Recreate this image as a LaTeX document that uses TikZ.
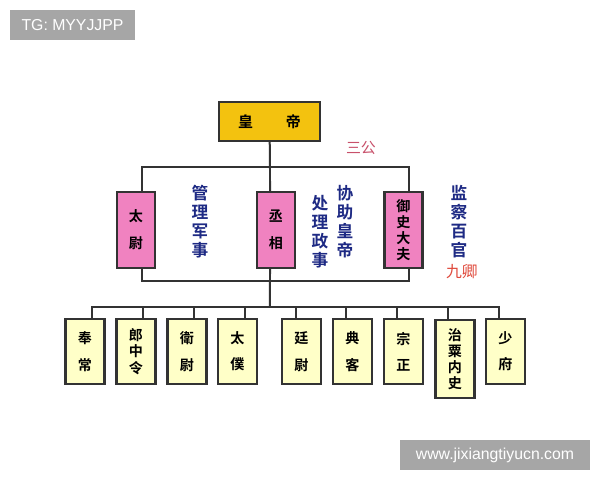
\documentclass[tikz,border=0pt]{standalone}
\usepackage{fontspec}
\setmainfont{Liberation Sans}
\newfontfamily\cjk{Noto Sans CJK SC}
\newfontfamily\cjkbold{Noto Sans CJK SC Bold}
\usetikzlibrary{positioning}

\definecolor{emperorgold}{HTML}{F3C20F}
\definecolor{gongpink}{HTML}{F082C0}
\definecolor{qingyellow}{HTML}{FFFFC8}
\definecolor{noteblue}{HTML}{1E2A84}
\definecolor{notered}{HTML}{C8506A}
\definecolor{jiured}{HTML}{E04A3C}
\definecolor{markgray}{HTML}{A6A6A6}

\tikzset{
  box/.style={draw=black!80, line width=0.045cm, inner sep=0pt, align=center},
  emperorbox/.style={box, fill=emperorgold, minimum width=2.02cm, minimum height=0.78cm,
    font=\cjkbold\fontsize{8.5}{10}\selectfont},
  gongbox/.style={box, fill=gongpink, minimum width=0.76cm, minimum height=1.52cm,
    font=\cjkbold\fontsize{8}{15.5}\selectfont},
  qingbox/.style={box, fill=qingyellow, minimum width=0.78cm, minimum height=1.3cm,
    font=\cjkbold\fontsize{8}{15}\selectfont},
  dense/.style={font=\cjkbold\fontsize{8}{9.2}\selectfont},
  note/.style={text=noteblue, align=center, inner sep=0pt,
    font=\cjkbold\fontsize{9.5}{10.8}\selectfont},
  rednote/.style={text=notered, inner sep=0pt, font=\cjk\fontsize{8.5}{10}\selectfont},
  watermark/.style={fill=markgray, text=white, inner sep=0pt, font=\fontsize{9}{10}\selectfont},
  link/.style={draw=black!80, line width=0.04cm}
}

\begin{document}
\begin{tikzpicture}[x=0.02cm, y=-0.02cm]
    \useasboundingbox[fill=white] (0,0) rectangle (600,480);

    % watermarks
    \node[watermark, minimum width=2.5cm, minimum height=0.6cm] (tg) at (72.5,25) {TG: MYYJJPP};
    \node[watermark, minimum width=3.8cm, minimum height=0.6cm] (site) at (495,455) {www.jixiangtiyucn.com};

    % emperor
    \node[emperorbox] (huangdi) at (269.5,121.5) {皇\hspace{2.2em}帝};
    \node[rednote] (sangong) at (361,148) {三公};

    % three dukes
    \node[gongbox] (taiwei) at (136,230) {太\\尉};
    \node[gongbox] (chengxiang) at (276,230) {丞\\相};
    \node[gongbox, dense] (yushi) at (403.5,230) {御\\史\\大\\夫};

    % duties
    \node[note] (junshi) at (200,222) {管\\理\\军\\事};
    \node[note] (zhengshi) at (320,232) {处\\理\\政\\事};
    \node[note] (xiezhu) at (345,222) {协\\助\\皇\\帝};
    \node[note] (jiancha) at (459,222) {监\\察\\百\\官};
    \node[rednote, text=jiured, font=\cjk\fontsize{9}{10}\selectfont] (jiuqing) at (462,272) {九卿};

    % nine ministers
    \node[qingbox] (fengchang) at (85,351.5) {奉\\常};
    \node[qingbox, dense] (langzhong) at (136,351.5) {郎\\中\\令};
    \node[qingbox] (weiwei) at (187,351.5) {衛\\尉};
    \node[qingbox] (taipu) at (237.5,351.5) {太\\僕};
    \node[qingbox] (tingwei) at (301.5,351.5) {廷\\尉};
    \node[qingbox] (dianke) at (352.5,351.5) {典\\客};
    \node[qingbox] (zongzheng) at (403.5,351.5) {宗\\正};
    \node[qingbox, dense, minimum height=1.56cm, anchor=north] (zhisu) at (455,319) {治\\粟\\内\\史};
    \node[qingbox] (shaofu) at (505.5,351.5) {少\\府};

    % connectors
    \coordinate (top) at (270,167);
    \coordinate (mid) at (270,281);
    \coordinate (bus) at (270,307);
    \draw[link] (huangdi) -- (top);
    \draw[link] ([xshift=0.12cm]taiwei.north) |- (top) -| ([xshift=0.12cm]yushi.north);
    \draw[link] (top) -- ([xshift=-0.12cm]chengxiang.north);
    \draw[link] ([xshift=0.12cm]taiwei.south) |- (mid) -| ([xshift=0.12cm]yushi.south);
    \draw[link] ([xshift=-0.12cm]chengxiang.south) -- (mid) -- (bus);
    \foreach \b/\s in {fengchang/7, langzhong/7, weiwei/7, taipu/7.5, tingwei/-5.5, dianke/-6.5, zongzheng/-6.5, zhisu/-7, shaofu/-6.5}
      \draw[link] (bus) -| ([xshift=\s*0.02cm]\b.north);

\end{tikzpicture}
\end{document}
